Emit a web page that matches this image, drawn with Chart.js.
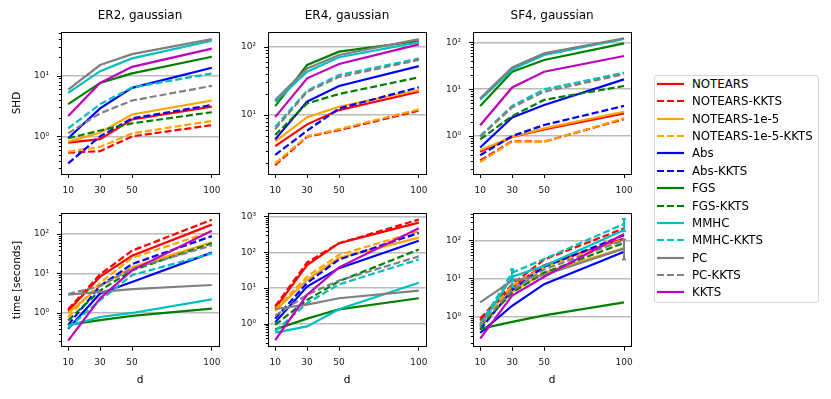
<!DOCTYPE html>
<html><head><meta charset="utf-8">
<script src="https://cdn.jsdelivr.net/npm/chart.js@4"></script>
<style>
html,body{margin:0;padding:0;background:#fff;}
body{width:831px;height:399px;position:relative;overflow:hidden;font-family:'DejaVu Sans',sans-serif;}
canvas{position:absolute;}
#legend{position:absolute;left:654px;top:75px;width:165px;height:228px;border:1px solid #d4d4d4;border-radius:3px;box-sizing:border-box;background:#fff;}
.row{position:absolute;left:0;height:16px;width:160px;}
.row svg{position:absolute;left:2px;top:0;}
.row span{position:absolute;left:37px;top:0;line-height:16px;font-size:11.8px;color:#000;white-space:nowrap;}
</style></head><body>
<canvas id="c1"></canvas><canvas id="c2"></canvas><canvas id="c3"></canvas>
<canvas id="c4"></canvas><canvas id="c5"></canvas><canvas id="c6"></canvas>
<div id="legend"></div>
<script>
// ---------- data ----------
const dValues = [10, 30, 50, 100];
const methods = ['NOTEARS','NOTEARS-KKTS','NOTEARS-1e-5','NOTEARS-1e-5-KKTS','Abs','Abs-KKTS','FGS','FGS-KKTS','MMHC','MMHC-KKTS','PC','PC-KKTS','KKTS'];

// rows follow the order of `methods`
const shdER2 = [
  [0.79, 0.9, 1.9, 3.1],
  [0.54, 0.57, 1.0, 1.53],
  [0.82, 1.15, 2.3, 3.9],
  [0.56, 0.67, 1.12, 1.8],
  [0.93, 2.9, 6.3, 13.5],
  [0.36, 1.0, 1.98, 3.3],
  [3.4, 7.6, 10.9, 20.5],
  [0.93, 1.25, 1.64, 2.5],
  [5.2, 11.9, 19.3, 37.6],
  [1.35, 3.4, 6.4, 10.9],
  [5.9, 15, 22.7, 40],
  [1.12, 2.4, 3.9, 6.8],
  [2.16, 7.6, 14, 28]
];
const shdER4 = [
  [3.5, 7.3, 11.8, 21.9],
  [1.85, 4.8, 6.0, 11.6],
  [4.1, 9.3, 13.2, 23.2],
  [1.96, 4.9, 6.2, 12.1],
  [4.4, 15.7, 26.6, 52],
  [2.6, 5.9, 12.5, 25.4],
  [13.5, 54, 84.5, 121],
  [5.1, 14.8, 20.3, 35.6],
  [15.7, 43, 70, 116],
  [6.7, 22.7, 38.5, 67],
  [16.6, 48, 75.5, 129],
  [6.2, 21.9, 36, 64],
  [9.3, 34.4, 55.8, 108]
];
const shdSF4 = [
  [0.46, 0.96, 1.39, 3.05],
  [0.3, 0.78, 0.76, 2.3],
  [0.5, 0.97, 1.46, 3.3],
  [0.28, 0.76, 0.75, 2.4],
  [0.57, 2.5, 4.6, 16.2],
  [0.39, 1.0, 1.72, 4.4],
  [4.4, 23.6, 42, 95],
  [0.85, 2.67, 5.9, 11.7],
  [6.0, 26.5, 53.6, 118],
  [1.0, 4.4, 9.9, 22.5],
  [6.4, 29, 58, 122],
  [0.97, 4.1, 8.8, 21],
  [1.7, 10.9, 23.6, 51]
];
const timeER2 = [
  [1.14, 8.3, 28, 172],
  [1.24, 9.5, 37.6, 229],
  [1.0, 4.8, 14.4, 61],
  [0.79, 5.8, 24.7, 116],
  [0.4, 3.1, 6.1, 33.7],
  [0.5, 4.8, 17.3, 88],
  [0.5, 0.66, 0.84, 1.29],
  [0.65, 3.7, 12, 58],
  [0.47, 0.79, 1.0, 2.2],
  [0.42, 2.1, 9.1, 32],
  [2.9, 3.4, 4.0, 5.1],
  [3.0, 4.8, 13.2, 51],
  [0.2, 2.35, 12, 120]
];
const timeER4 = [
  [2.7, 44, 180, 673],
  [3.1, 52, 179, 820],
  [2.3, 17, 70, 257],
  [2.55, 21, 85, 385],
  [1.1, 11, 36, 211],
  [1.4, 14, 63, 347],
  [0.7, 1.4, 2.55, 5.2],
  [0.94, 4.65, 15.5, 120],
  [0.57, 0.85, 2.55, 14.1],
  [0.63, 3.8, 12.7, 63],
  [2.6, 3.45, 5.2, 8.5],
  [1.7, 6.5, 16.2, 77],
  [0.35, 6.5, 38, 469]
];
const timeSF4 = [
  [0.78, 6, 22, 110],
  [0.88, 6.9, 31, 205],
  [0.5, 4.5, 14, 62],
  [0.65, 6.5, 20, 105],
  [0.37, 1.9, 7, 50],
  [0.45, 5, 20, 135],
  [0.47, 0.72, 1.06, 2.33],
  [0.55, 4.2, 14, 85],
  [0.55, 11, 21, 186],
  [0.62, 14, 32, 270],
  [2.33, 8.7, 12.2, 60],
  [0.6, 5, 17, 100],
  [0.26, 3.5, 11, 145]
];
// visible error bars in the SF4 timing panel: [method index, d index, low, high]
const errTimeSF4 = [
  [9, 3, 172, 360],
  [10, 3, 31, 105],
  [8, 1, 6, 17],
  [9, 1, 10, 17]
];
// y-axis limits [min, max] per panel
const yLimShdER2 = [0.24, 52.5];
const yLimShdER4 = [1.37, 164];
const yLimShdSF4 = [0.155, 166];
const yLimTimeER2 = [0.14, 331];
const yLimTimeER4 = [0.23, 1220];
const yLimTimeSF4 = [0.16, 506];
const xTicks = [10, 30, 50, 100];
const xLim = [5.5, 104.5];

// ---------- styles ----------
const colors = ['#ff0000','#ff0000','#ffa500','#ffa500','#0000ff','#0000ff','#008000','#008000','#00bfbf','#00bfbf','#808080','#808080','#bf00bf'];
const dashed = [false,true,false,true,false,true,false,true,false,true,false,true,false];
const DASH = [7, 3];
const LW = 2.2;

Chart.defaults.font.family = "'DejaVu Sans', sans-serif";
Chart.defaults.color = '#000';

const SUP = {'0':'⁰','1':'¹','2':'²','3':'³','4':'⁴','5':'⁵','6':'⁶','7':'⁷','8':'⁸','9':'⁹','-':'⁻'};
function isPow10(v){ const l = Math.log10(v); return Math.abs(l - Math.round(l)) < 1e-9; }
function logTicks(min, max){
  const t = [];
  for (let e = Math.floor(Math.log10(min)); e <= Math.ceil(Math.log10(max)); e++) {
    for (let s = 1; s < 10; s++) {
      const v = parseFloat((s * Math.pow(10, e)).toPrecision(6));
      if (v >= min && v <= max) t.push({value: v, major: s === 1});
    }
  }
  return t;
}

// centre the panel title over the plot area (as matplotlib does)
const titleCenterPlugin = {
  id: 'titleCenter',
  afterLayout(chart) {
    const t = chart.titleBlock;
    if (t && t.options && t.options.display) {
      t.left = chart.chartArea.left;
      t.right = chart.chartArea.right;
      t.width = t.right - t.left;
    }
  }
};

// error bars drawn from the error arrays through the scales
const errorBarPlugin = {
  id: 'errbars',
  afterDatasetsDraw(chart, args, opts) {
    const list = opts.bars || [];
    if (!list.length) return;
    const {ctx, chartArea: a, scales: {x, y}} = chart;
    ctx.save();
    ctx.beginPath(); ctx.rect(a.left, a.top, a.right - a.left, a.bottom - a.top); ctx.clip();
    list.forEach(([mi, di, lo, hi]) => {
      const px = x.getPixelForValue(dValues[di]);
      const p1 = y.getPixelForValue(lo), p2 = y.getPixelForValue(hi);
      ctx.strokeStyle = colors[mi];
      ctx.lineWidth = 2;
      ctx.beginPath();
      ctx.moveTo(px, p1); ctx.lineTo(px, p2);
      ctx.moveTo(px - 2, p1); ctx.lineTo(px + 2, p1);
      ctx.moveTo(px - 2, p2); ctx.lineTo(px + 2, p2);
      ctx.stroke();
    });
    ctx.restore();
  }
};

const boxPlugin = {
  id: 'box',
  afterDraw(chart) {
    const {ctx, chartArea: a, scales} = chart;
    const y = scales.y;
    ctx.save();
    ctx.strokeStyle = '#000';
    ctx.lineWidth = 1;
    y.ticks.forEach(t => {
      const py = Math.round(y.getPixelForValue(t.value)) + 0.5;
      const len = isPow10(t.value) ? 4 : 2.2;
      ctx.beginPath();
      ctx.moveTo(a.left - len, py);
      ctx.lineTo(a.left, py);
      ctx.stroke();
    });
    ctx.strokeRect(Math.round(a.left) + 0.5, Math.round(a.top) + 0.5, Math.round(a.right - a.left), Math.round(a.bottom - a.top));
    ctx.restore();
  }
};

function makeChart(p) {
  const cv = document.getElementById(p.id);
  cv.width = p.w; cv.height = p.h;
  cv.style.left = p.left + 'px'; cv.style.top = p.top + 'px';
  cv.style.width = p.w + 'px'; cv.style.height = p.h + 'px';
  const datasets = methods.map((m, i) => ({
    label: m,
    data: dValues.map((d, j) => ({x: d, y: p.data[i][j]})),
    borderColor: colors[i],
    backgroundColor: colors[i],
    borderWidth: LW,
    borderDash: dashed[i] ? DASH : [],
    pointRadius: 0,
    tension: 0,
    fill: false,
    order: methods.length - i
  }));
  new Chart(cv, {
    type: 'line',
    data: {datasets},
    plugins: [titleCenterPlugin, errorBarPlugin, boxPlugin],
    options: {
      responsive: false,
      animation: false,
      devicePixelRatio: 1,
      layout: {padding: {left: 0, right: p.padR, top: p.padT, bottom: 0}},
      plugins: {
        legend: {display: false},
        tooltip: {enabled: false},
        errbars: {bars: p.err || []},
        title: p.title ? {
          display: true, text: p.title, color: '#000',
          font: {size: 12, weight: 'normal', lineHeight: 1.2},
          padding: {top: 9, bottom: 8.6}
        } : {display: false}
      },
      scales: {
        x: {
          type: 'linear', min: xLim[0], max: xLim[1], bounds: 'data',
          afterBuildTicks: s => { s.ticks = xTicks.map(v => ({value: v})); },
          afterFit: s => { s.height = p.xh; },
          ticks: {autoSkip: false, maxRotation: 0, font: {size: 9}, color: '#222', padding: 7,
                  callback: v => String(v)},
          grid: {drawOnChartArea: false, drawTicks: true, tickLength: 4, tickColor: '#000', color: '#000'},
          border: {display: false},
          title: p.xlabel ? {display: true, text: p.xlabel, color: '#000', font: {size: 10.5, lineHeight: 1.2}, padding: {top: 0, bottom: 12.7}} : {display: false}
        },
        y: {
          type: 'logarithmic', min: p.ylim[0], max: p.ylim[1],
          afterBuildTicks: s => { s.ticks = logTicks(p.ylim[0], p.ylim[1]); },
          afterFit: s => { s.width = p.yw; },
          ticks: {autoSkip: false, font: {size: 9}, color: '#222', padding: 8,
                  callback: v => {
                    if (!isPow10(v)) return '';
                    const e = Math.round(Math.log10(v));
                    return '10' + String(e).split('').map(c => SUP[c]).join('');
                  }},
          grid: {
            drawTicks: true, tickLength: 4, tickColor: 'rgba(0,0,0,0)',
            color: c => (c.tick && isPow10(c.tick.value)) ? '#bcbcbc' : 'rgba(0,0,0,0)',
            lineWidth: 1.4
          },
          border: {display: false},
          title: p.ylabel ? {display: true, text: p.ylabel, color: '#000', font: {size: 10.5, lineHeight: 1.2}, padding: {top: 10.7, bottom: 0}} : {display: false}
        }
      }
    }
  });
}

const colGeom = [
  {left: 0,   w: 229, yw: 61, padR: 10},
  {left: 228, w: 208, yw: 40, padR: 10},
  {left: 440, w: 200, yw: 33, padR: 8}
];
const topRow = [
  {id: 'c1', data: shdER2, ylim: yLimShdER2, title: 'ER2, gaussian', ylabel: 'SHD'},
  {id: 'c2', data: shdER4, ylim: yLimShdER4, title: 'ER4, gaussian'},
  {id: 'c3', data: shdSF4, ylim: yLimShdSF4, title: 'SF4, gaussian'}
];
const bottomRow = [
  {id: 'c4', data: timeER2, ylim: yLimTimeER2, ylabel: 'time [seconds]', xlabel: 'd'},
  {id: 'c5', data: timeER4, ylim: yLimTimeER4, xlabel: 'd'},
  {id: 'c6', data: timeSF4, ylim: yLimTimeSF4, xlabel: 'd', err: errTimeSF4}
];
topRow.forEach((p, i) => makeChart(Object.assign({}, p, colGeom[i], {top: 0, h: 200, padT: 0, xh: 26})));
bottomRow.forEach((p, i) => makeChart(Object.assign({}, p, colGeom[i], {top: 200, h: 199, padT: 4, xh: 52.3})));

// legend
const lg = document.getElementById('legend');
methods.forEach((m, i) => {
  const row = document.createElement('div');
  row.className = 'row';
  row.style.top = (i * 17.36) + 'px';
  row.innerHTML = '<svg width="28" height="16"><line x1="0" y1="8" x2="27" y2="8" stroke="' + colors[i] +
    '" stroke-width="' + LW + '"' + (dashed[i] ? ' stroke-dasharray="' + DASH.join(',') + '"' : '') + '/></svg><span></span>';
  row.querySelector('span').textContent = m;
  lg.appendChild(row);
});
</script>
</body></html>
